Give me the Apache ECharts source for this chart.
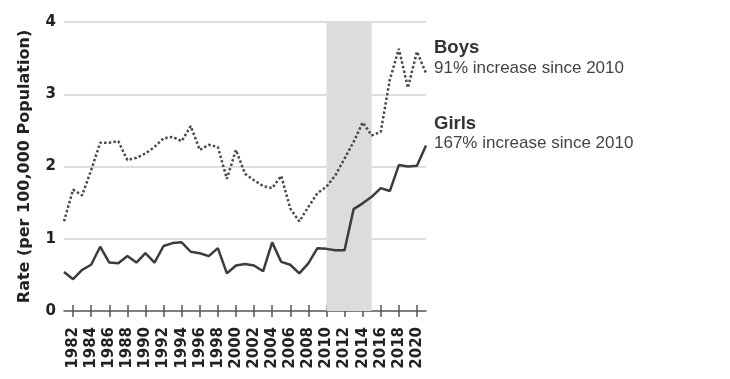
<!DOCTYPE html>
<html>
<head>
<meta charset="utf-8">
<script src="https://cdn.jsdelivr.net/npm/echarts@6/dist/echarts.min.js"></script>
<style>
html,body{margin:0;padding:0;background:#fff;}
#c{width:730px;height:379px;}
</style>
</head>
<body>
<div id="c"></div>
<script>
const years = [];
for (let y = 1981; y <= 2021; y++) years.push(String(y));
const boys = [1.24,1.68,1.60,1.95,2.33,2.33,2.35,2.09,2.12,2.18,2.27,2.39,2.41,2.35,2.56,2.23,2.30,2.27,1.83,2.23,1.90,1.81,1.73,1.70,1.87,1.42,1.24,1.44,1.63,1.72,1.88,2.11,2.34,2.61,2.43,2.48,3.20,3.63,3.09,3.59,3.29];
const girls = [0.54,0.44,0.57,0.64,0.89,0.67,0.66,0.76,0.67,0.80,0.67,0.90,0.94,0.95,0.82,0.80,0.76,0.87,0.52,0.63,0.65,0.63,0.55,0.95,0.68,0.64,0.52,0.66,0.87,0.86,0.84,0.84,1.41,1.49,1.58,1.70,1.66,2.02,2.00,2.01,2.29];
const shadeRange = ['2010', '2015'];
const yAxisTitle = 'Rate (per 100,000 Population)';
const boysTitle = 'Boys';
const boysNote = '91% increase since 2010';
const girlsTitle = 'Girls';
const girlsNote = '167% increase since 2010';

const chart = echarts.init(document.getElementById('c'));
const evenYear = (i, v) => Number(v) % 2 === 0;
const axisFont = '"DejaVu Sans", sans-serif';
chart.setOption({
  animation: false,
  backgroundColor: '#fff',
  grid: { left: 64, right: 304, top: 22, bottom: 68 },
  xAxis: [
    {
      type: 'category', data: years, boundaryGap: false, position: 'bottom',
      axisLine: { show: true, lineStyle: { color: '#555', width: 1.5 } },
      axisTick: { show: true, interval: evenYear, length: 6, lineStyle: { color: '#555', width: 1.5 } },
      axisLabel: { interval: evenYear, rotate: 90, margin: 16, color: '#222', fontFamily: axisFont, fontWeight: 'bold', fontSize: 15 },
      splitLine: { show: false }
    },
    {
      type: 'category', data: years, boundaryGap: false, position: 'bottom',
      axisLine: { show: false },
      axisTick: { show: true, inside: true, interval: evenYear, length: 6, lineStyle: { color: '#555', width: 1.5 } },
      axisLabel: { show: false },
      splitLine: { show: false }
    }
  ],
  yAxis: {
    type: 'value', min: 0, max: 4, interval: 1,
    name: yAxisTitle, nameLocation: 'middle', nameGap: 31,
    nameTextStyle: { color: '#222', fontFamily: axisFont, fontWeight: 'bold', fontSize: 16 },
    axisLine: { show: false }, axisTick: { show: false },
    axisLabel: { color: '#222', fontFamily: axisFont, fontWeight: 'bold', fontSize: 15, margin: 8 },
    splitLine: { show: true, lineStyle: { color: '#d2d2d2', width: 1.5 }, showMinLine: false }
  },
  series: [
    {
      name: 'Boys', type: 'line', data: boys, symbol: 'none',
      lineStyle: { color: '#4a4a4a', width: 2.5, type: [2.5, 2.2] },
      markArea: {
        silent: true,
        itemStyle: { color: '#dcdcdd' },
        data: [[{ xAxis: shadeRange[0] }, { xAxis: shadeRange[1] }]]
      },
      z: 3
    },
    {
      name: 'Girls', type: 'line', data: girls, symbol: 'none',
      lineStyle: { color: '#3c3c3c', width: 2.5 },
      z: 3
    }
  ],
  graphic: [
    { type: 'text', left: 434, top: 38, style: { text: boysTitle, fill: '#333', font: 'bold 18.5px "Liberation Sans", Arial, sans-serif' } },
    { type: 'text', left: 434, top: 60, style: { text: boysNote, fill: '#444', font: '17px "Liberation Sans", Arial, sans-serif' } },
    { type: 'text', left: 434, top: 114, style: { text: girlsTitle, fill: '#333', font: 'bold 18.5px "Liberation Sans", Arial, sans-serif' } },
    { type: 'text', left: 434, top: 135, style: { text: girlsNote, fill: '#444', font: '17px "Liberation Sans", Arial, sans-serif' } }
  ]
});
</script>
</body>
</html>
